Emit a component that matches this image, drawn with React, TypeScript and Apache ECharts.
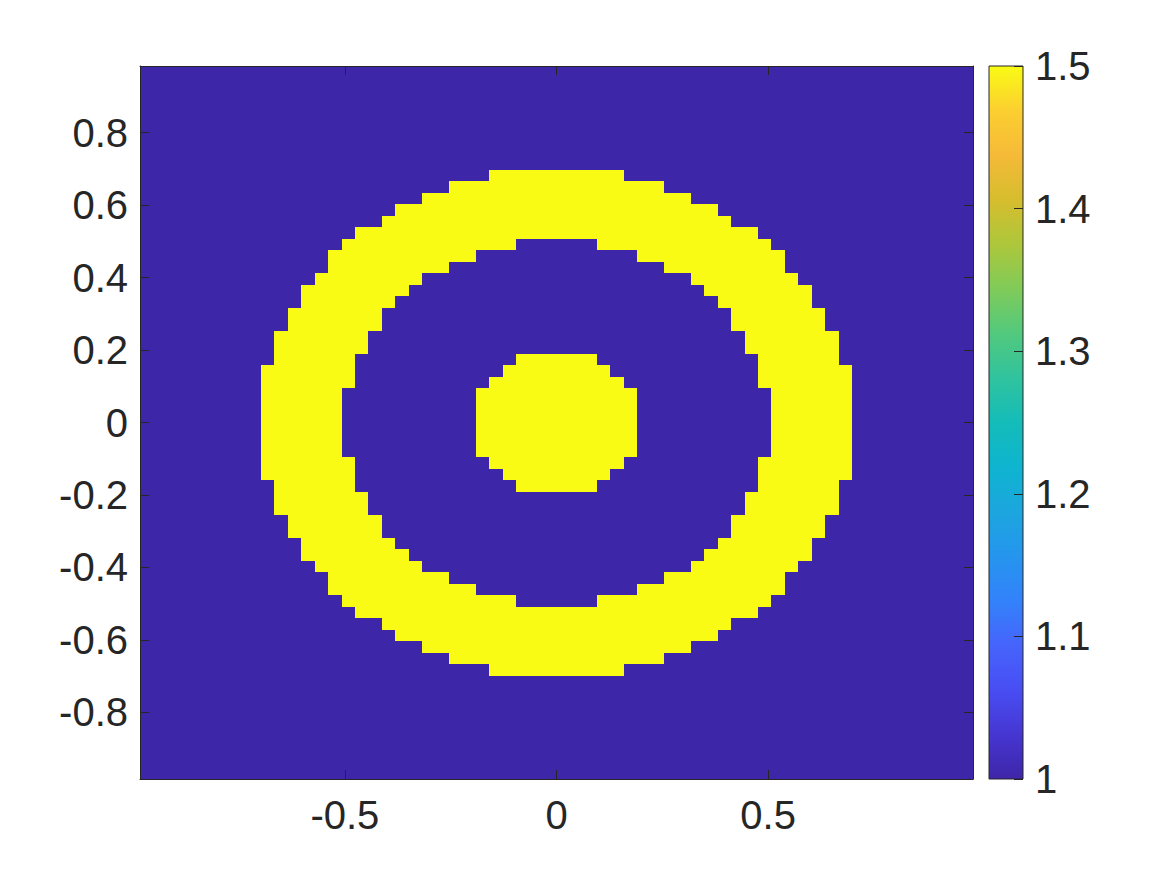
import React, { useEffect, useRef } from "react";
import * as echarts from "echarts";

// Regular grid: 62 x 62 cells, spacing 2/63 (interior points of a 64-point grid on [-1, 1])
const GRID_COUNT = 62;
const GRID_STEP = 2 / 63;

const X_TICKS = [-0.5, 0, 0.5];
const Y_TICKS = [-0.8, -0.6, -0.4, -0.2, 0, 0.2, 0.4, 0.6, 0.8];
const CBAR_TICKS = [1, 1.1, 1.2, 1.3, 1.4, 1.5];

const VALUE_LOW = 1;
const VALUE_HIGH = 1.5;

// Yellow (VALUE_HIGH) runs per row, rows listed from top to bottom, [firstCol, lastCol] (0-based)
const YELLOW_RUNS: number[][][] = [
  [], [], [], [], [], [], [], [], [],
  [[26, 35]],
  [[23, 38]],
  [[21, 40]],
  [[19, 42]],
  [[18, 43]],
  [[16, 45]],
  [[15, 27], [34, 46]],
  [[14, 24], [37, 47]],
  [[14, 22], [39, 47]],
  [[13, 20], [41, 48]],
  [[12, 19], [42, 49]],
  [[12, 18], [43, 49]],
  [[11, 17], [44, 50]],
  [[11, 17], [44, 50]],
  [[10, 16], [45, 51]],
  [[10, 16], [45, 51]],
  [[10, 15], [28, 33], [46, 51]],
  [[9, 15], [27, 34], [46, 52]],
  [[9, 15], [26, 35], [46, 52]],
  [[9, 14], [25, 36], [47, 52]],
  [[9, 14], [25, 36], [47, 52]],
  [[9, 14], [25, 36], [47, 52]],
  [[9, 14], [25, 36], [47, 52]],
  [[9, 14], [25, 36], [47, 52]],
  [[9, 14], [25, 36], [47, 52]],
  [[9, 15], [26, 35], [46, 52]],
  [[9, 15], [27, 34], [46, 52]],
  [[10, 15], [28, 33], [46, 51]],
  [[10, 16], [45, 51]],
  [[10, 16], [45, 51]],
  [[11, 17], [44, 50]],
  [[11, 17], [44, 50]],
  [[12, 18], [43, 49]],
  [[12, 19], [42, 49]],
  [[13, 20], [41, 48]],
  [[14, 22], [39, 47]],
  [[14, 24], [37, 47]],
  [[15, 27], [34, 46]],
  [[16, 45]],
  [[18, 43]],
  [[19, 42]],
  [[21, 40]],
  [[23, 38]],
  [[26, 35]],
  [], [], [], [], [], [], [], [], [],
];

// parula colormap stops (evenly spaced)
const PARULA = [
  "#3e26a8", "#4636d2", "#484ef3", "#4664fc", "#3382fa", "#2595ee",
  "#1ca6de", "#0eb4d0", "#14bcb9", "#30c39e", "#52c97d", "#80cb59",
  "#adc73b", "#d6bd2e", "#f5ba38", "#fccf30", "#f9fb15",
];

const AXIS_COLOR = "#262626";
const FONT = "'Liberation Sans', Arial, Helvetica, sans-serif";

// cell edge coordinate for edge index k (k = 0 .. GRID_COUNT)
const edgeX = (k: number) => -1 + (k + 0.5) * GRID_STEP;
const edgeY = (k: number) => 1 - (k + 0.5) * GRID_STEP;

// data items: [col, row, value]
function buildCells() {
  const cells: number[][] = [];
  for (let r = 0; r < GRID_COUNT; r++) {
    const runs = YELLOW_RUNS[r] || [];
    for (let c = 0; c < GRID_COUNT; c++) {
      const hit = runs.some(([a, b]) => c >= a && c <= b);
      cells.push([c, r, hit ? VALUE_HIGH : VALUE_LOW]);
    }
  }
  return cells;
}

const fmt = (v: number) => String(Math.round(v * 10) / 10);

export default function App() {
  const ref = useRef<HTMLDivElement>(null);
  useEffect(() => {
    if (!ref.current) return;
    const chart = echarts.init(ref.current, null, { renderer: "svg" });
    const lim = 1 - GRID_STEP / 2;
    const baseAxis = {
      type: "value",
      min: -lim,
      max: lim,
      z: 10,
      splitLine: { show: false },
      axisLine: { show: true, onZero: false, lineStyle: { color: AXIS_COLOR, width: 1 } },
    };
    const labelStyle = { color: AXIS_COLOR, fontSize: 40, fontFamily: FONT };
    const stops = PARULA.map((c, i) => ({ offset: i / (PARULA.length - 1), color: c }));

    chart.setOption({
      animation: false,
      backgroundColor: "#ffffff",
      grid: [
        { left: 140, top: 66, width: 833, height: 713 },
        { left: 989, top: 66, width: 34, height: 713 },
      ],
      xAxis: [
        {
          ...baseAxis,
          gridIndex: 0,
          position: "bottom",
          axisTick: { show: true, inside: true, length: 9, customValues: X_TICKS, lineStyle: { color: AXIS_COLOR } },
          axisLabel: { ...labelStyle, margin: 16, customValues: X_TICKS, formatter: fmt },
        },
        {
          ...baseAxis,
          gridIndex: 0,
          position: "top",
          axisTick: { show: true, inside: true, length: 9, customValues: X_TICKS, lineStyle: { color: AXIS_COLOR } },
          axisLabel: { show: false },
        },
        { type: "value", gridIndex: 1, min: 0, max: 1, show: false },
      ],
      yAxis: [
        {
          ...baseAxis,
          gridIndex: 0,
          position: "left",
          axisTick: { show: true, inside: true, length: 9, customValues: Y_TICKS, lineStyle: { color: AXIS_COLOR } },
          axisLabel: { ...labelStyle, margin: 12, customValues: Y_TICKS, formatter: fmt },
        },
        {
          ...baseAxis,
          gridIndex: 0,
          position: "right",
          axisTick: { show: true, inside: true, length: 9, customValues: Y_TICKS, lineStyle: { color: AXIS_COLOR } },
          axisLabel: { show: false },
        },
        {
          type: "value",
          gridIndex: 1,
          position: "right",
          min: VALUE_LOW,
          max: VALUE_HIGH,
          z: 10,
          splitLine: { show: false },
          axisLine: { show: false, onZero: false },
          axisTick: { show: true, inside: true, length: 9, customValues: CBAR_TICKS, lineStyle: { color: AXIS_COLOR } },
          axisLabel: { ...labelStyle, margin: 12, customValues: CBAR_TICKS, formatter: fmt },
        },
      ],
      visualMap: {
        type: "continuous",
        show: false,
        min: VALUE_LOW,
        max: VALUE_HIGH,
        dimension: 2,
        seriesIndex: 0,
        inRange: { color: PARULA },
      },
      series: [
        {
          type: "custom",
          xAxisIndex: 0,
          yAxisIndex: 0,
          clip: true,
          data: buildCells(),
          renderItem: (params: any, api: any) => {
            const c = api.value(0);
            const r = api.value(1);
            const p0 = api.coord([edgeX(c), edgeY(r)]);
            const p1 = api.coord([edgeX(c + 1), edgeY(r + 1)]);
            const x0 = Math.round(p0[0]);
            const y0 = Math.round(p0[1]);
            const x1 = Math.round(p1[0]);
            const y1 = Math.round(p1[1]);
            const color = api.visual("color");
            return {
              type: "rect",
              shape: { x: x0, y: y0, width: x1 - x0, height: y1 - y0 },
              style: { fill: color },
            };
          },
        },
        {
          type: "custom",
          xAxisIndex: 2,
          yAxisIndex: 2,
          data: [[0, VALUE_LOW, 1, VALUE_HIGH]],
          renderItem: (params: any, api: any) => {
            const p0 = api.coord([api.value(0), api.value(3)]);
            const p1 = api.coord([api.value(2), api.value(1)]);
            return {
              type: "rect",
              shape: { x: p0[0], y: p0[1], width: p1[0] - p0[0], height: p1[1] - p0[1] },
              style: {
                fill: new echarts.graphic.LinearGradient(0, 1, 0, 0, stops),
                stroke: AXIS_COLOR,
                lineWidth: 1,
              },
            };
          },
        },
      ],
    });
    return () => chart.dispose();
  }, []);
  return (
    <div
      ref={ref}
      style={{ position: "absolute", left: 0, top: 0, width: 1167, height: 875, background: "#fff" }}
    />
  );
}
